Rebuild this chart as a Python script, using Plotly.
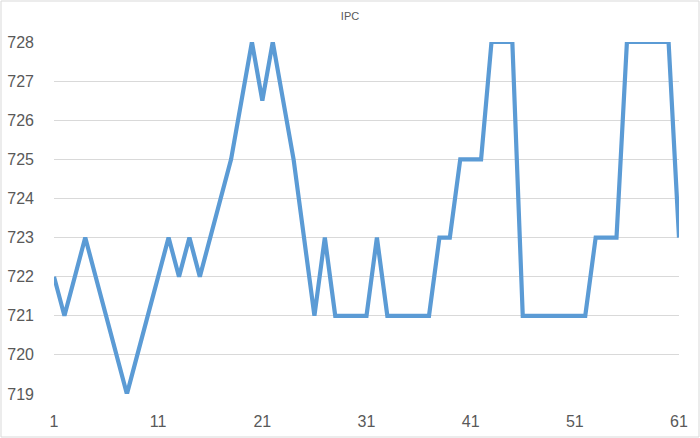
import plotly.graph_objects as go

x_values = list(range(1, 62))
ipc_values = [
    722, 721, 722, 723, 722, 721, 720, 719, 720, 721,
    722, 723, 722, 723, 722, 723, 724, 725, 726.5, 728,
    726.5, 728, 726.5, 725, 723, 721, 723, 721, 721, 721,
    721, 723, 721, 721, 721, 721, 721, 723, 723, 725,
    725, 725, 728, 728, 728, 721, 721, 721, 721, 721,
    721, 721, 723, 723, 723, 728, 728, 728, 728, 728,
    723,
]
x_tick_vals = [1, 11, 21, 31, 41, 51, 61]
y_tick_vals = [719, 720, 721, 722, 723, 724, 725, 726, 727, 728]

W, H = 700, 438
L, R, T, B = 54, 21, 42, 44
pw, ph = W - L - R, H - T - B

fig = go.Figure()
fig.add_trace(go.Scatter(
    x=x_values, y=ipc_values, mode="lines",
    line=dict(color="#5B9BD5", width=4.2),
    cliponaxis=False, hoverinfo="x+y", showlegend=False,
))

fig.update_layout(
    width=W, height=H,
    margin=dict(l=L, r=R, t=T, b=B, autoexpand=False),
    paper_bgcolor="white", plot_bgcolor="white",
    font=dict(family="Liberation Sans", color="#595959"),
    title=dict(text="IPC", x=0.5, xanchor="center", y=1 - 16 / H, yanchor="middle",
               font=dict(size=11, color="#595959")),
    xaxis=dict(range=[1, 61], tickvals=x_tick_vals, ticktext=[str(v) for v in x_tick_vals],
               showgrid=False, zeroline=False, showline=False, ticks="", automargin=False,
               tickfont=dict(size=16, color="#595959"), ticklabelstandoff=16),
    yaxis=dict(range=[719, 728], tickvals=y_tick_vals, automargin=False,
               showgrid=True, gridcolor="#D9D9D9", gridwidth=1, zeroline=False,
               showline=False, ticks="",
               tickfont=dict(size=16, color="#595959"), ticklabelstandoff=19),
    shapes=[dict(type="rect", xref="paper", yref="paper",
                 x0=-(L - 1) / pw, x1=1 + (R - 1) / pw,
                 y0=-(B - 1) / ph, y1=1 + (T - 1) / ph,
                 line=dict(color="#D9D9D9", width=1), fillcolor="rgba(0,0,0,0)",
                 layer="below")],
)

fig.write_html("out.html", config={"displayModeBar": False},
               post_script="document.body.style.margin='0';document.body.style.overflow='hidden';")
